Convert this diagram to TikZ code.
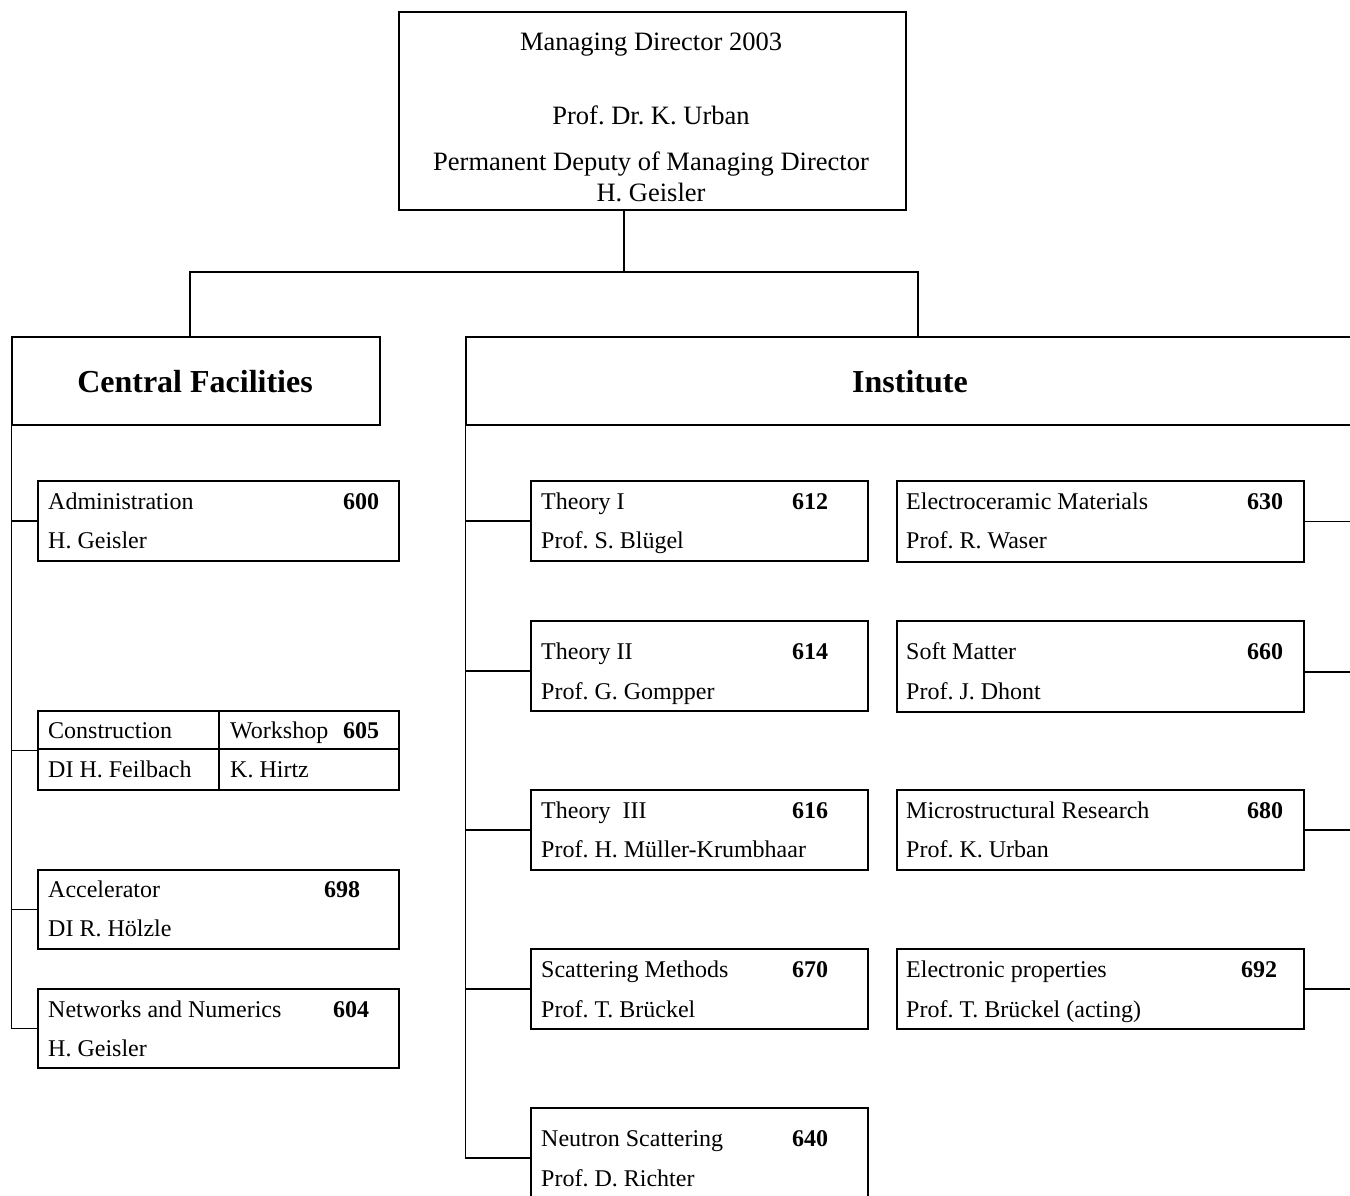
\documentclass[tikz,border=0pt]{standalone}
\usepackage{fontspec}
\setmainfont{Liberation Serif}
\frenchspacing
\begin{document}
\begin{tikzpicture}[x=1pt,y=-1pt,
  box/.style={draw, line width=1.1pt, rectangle, inner sep=0pt},
  wire/.style={draw, line width=1.1pt},
  lbl/.style={anchor=mid west, inner sep=0pt, yshift=-4pt, font=\fontsize{24}{26}\selectfont},
  num/.style={anchor=mid, inner sep=0pt, yshift=-4pt, font=\fontsize{24}{26}\selectfont\bfseries},
  head/.style={anchor=mid, inner sep=0pt, yshift=-3pt, font=\fontsize{26.5}{30}\selectfont},
  big/.style={anchor=mid, inner sep=0pt, yshift=-3pt, font=\fontsize{32}{36}\selectfont\bfseries}]
\useasboundingbox (0,0) rectangle (1350,1195);
\clip (0,0) rectangle (1350,1195);

% director
\node[box, minimum width=507pt, minimum height=198pt] (top) at (652.5,111) {};
\node[head] (t1) at (651,45) {Managing Director 2003};
\node[head] (t2) at (651,119) {Prof. Dr. K. Urban};
\node[head] (t3) at (651,165) {Permanent Deputy of Managing Director};
\node[head] (t4) at (651,196) {H. Geisler};

% two main branches
\node[box, minimum width=368pt, minimum height=88pt] (cf) at (196,381) {};
\node[big] (cfl) at (195,387) {Central Facilities};
\node[box, minimum width=894pt, minimum height=88pt] (inst) at (913,381) {};
\node[big] (instl) at (910,387) {Institute};

\coordinate (hub) at (624,272);
\coordinate (cfin) at (190,337);
\coordinate (instin) at (918,337);
\draw[wire] (top.south -| hub) -- (hub);
\draw[wire] (cfin) |- (hub) -| (instin);

% central facilities units
\node[box, minimum width=361pt, minimum height=80pt] (adm) at (218.5,521) {};
\node[lbl] (adm1) at (48,503) {Administration};
\node[num] (adm2) at (361,503) {600};
\node[lbl] (adm3) at (48,542) {H. Geisler};

\node[box, minimum width=361pt, minimum height=79pt] (con) at (218.5,750.5) {};
\coordinate (conmid) at (219,711);
\coordinate (conrow) at (38,749);
\draw[wire] (conmid) -- (conmid |- con.south);
\draw[wire] (conrow) -- (conrow -| con.east);
\node[lbl] (con1) at (48,732) {Construction};
\node[lbl] (con2) at (230,732) {Workshop};
\node[num] (con3) at (361,732) {605};
\node[lbl] (con4) at (48,771) {DI H. Feilbach};
\node[lbl] (con5) at (230,771) {K. Hirtz};

\node[box, minimum width=361pt, minimum height=79pt] (acc) at (218.5,909.5) {};
\node[lbl] (acc1) at (48,891) {Accelerator};
\node[num] (acc2) at (342,891) {698};
\node[lbl] (acc3) at (48,930) {DI R. Hölzle};

\node[box, minimum width=361pt, minimum height=79pt] (net) at (218.5,1028.5) {};
\node[lbl] (net1) at (48,1011) {Networks and Numerics};
\node[num] (net2) at (351,1011) {604};
\node[lbl] (net3) at (48,1050) {H. Geisler};

\draw[wire] (cf.south west) |- (net.west);
\foreach \u in {adm,con,acc} \draw[wire] (\u.west) -- (\u.west -| cf.west);

% institute units, left column
\node[box, minimum width=337pt, minimum height=80pt] (th1) at (699.5,521) {};
\node[lbl] (th1a) at (541,503) {Theory I};
\node[num] (th1b) at (810,503) {612};
\node[lbl] (th1c) at (541,542) {Prof. S. Blügel};

\node[box, minimum width=337pt, minimum height=90pt] (th2) at (699.5,666) {};
\node[lbl] (th2a) at (541,653) {Theory II};
\node[num] (th2b) at (810,653) {614};
\node[lbl] (th2c) at (541,693) {Prof. G. Gompper};

\node[box, minimum width=337pt, minimum height=80pt] (th3) at (699.5,830) {};
\node[lbl] (th3a) at (541,812) {Theory\ \ III};
\node[num] (th3b) at (810,812) {616};
\node[lbl] (th3c) at (541,851) {Prof. H. Müller-Krumbhaar};

\node[box, minimum width=337pt, minimum height=80pt] (sca) at (699.5,989) {};
\node[lbl] (sca1) at (541,971) {Scattering Methods};
\node[num] (sca2) at (810,971) {670};
\node[lbl] (sca3) at (541,1011) {Prof. T. Brückel};

\node[box, minimum width=337pt, minimum height=102pt] (neu) at (699.5,1159) {};
\node[lbl] (neu1) at (541,1140) {Neutron Scattering};
\node[num] (neu2) at (810,1140) {640};
\node[lbl] (neu3) at (541,1180) {Prof. D. Richter};

\coordinate (th2in) at (531,671);
\coordinate (neuin) at (531,1158);
\draw[wire] (inst.south west) |- (neuin);
\foreach \u in {th1,th3,sca} \draw[wire] (\u.west) -- (\u.west -| inst.west);
\draw[wire] (th2in) -- (th2in -| inst.west);

% institute units, right column
\node[box, minimum width=407pt, minimum height=81pt] (ele) at (1100.5,521.5) {};
\node[lbl] (ele1) at (906,503) {Electroceramic Materials};
\node[num] (ele2) at (1265,503) {630};
\node[lbl] (ele3) at (906,542) {Prof. R. Waser};

\node[box, minimum width=407pt, minimum height=91pt] (sof) at (1100.5,666.5) {};
\node[lbl] (sof1) at (906,653) {Soft Matter};
\node[num] (sof2) at (1265,653) {660};
\node[lbl] (sof3) at (906,693) {Prof. J. Dhont};

\node[box, minimum width=407pt, minimum height=80pt] (mic) at (1100.5,830) {};
\node[lbl] (mic1) at (906,812) {Microstructural Research};
\node[num] (mic2) at (1265,812) {680};
\node[lbl] (mic3) at (906,851) {Prof. K. Urban};

\node[box, minimum width=407pt, minimum height=80pt] (elp) at (1100.5,989) {};
\node[lbl] (elp1) at (906,971) {Electronic properties};
\node[num] (elp2) at (1259,971) {692};
\node[lbl] (elp3) at (906,1011) {Prof. T. Brückel (acting)};

\coordinate (rtrunk) at (1355,0);
\coordinate (sofout) at (1304,672);
\foreach \u in {ele,mic,elp} \draw[wire] (\u.east) -- (\u.east -| rtrunk);
\draw[wire] (sofout) -- (sofout -| rtrunk);
\end{tikzpicture}
\end{document}
